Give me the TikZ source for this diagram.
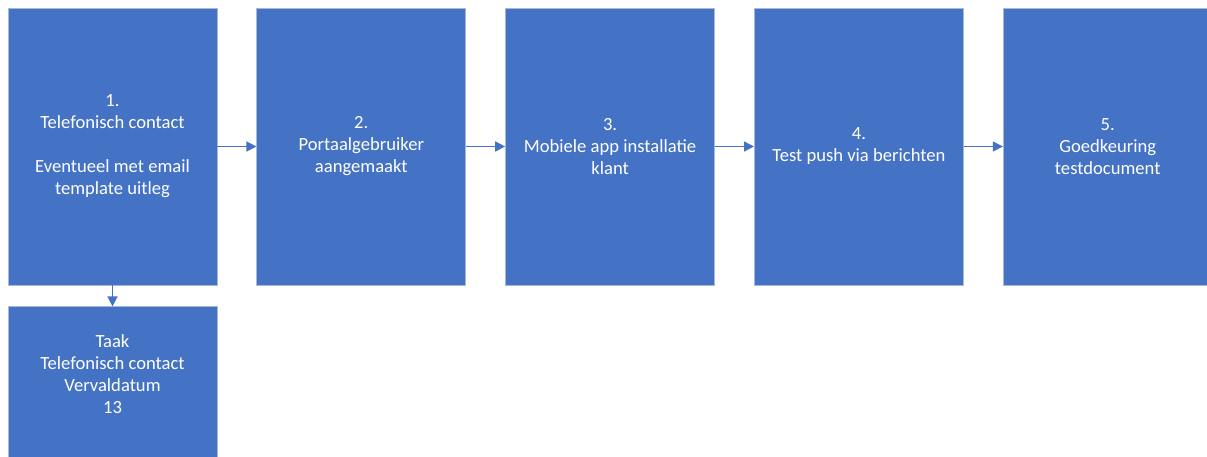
\documentclass[tikz,border=0pt]{standalone}
\usepackage{fontspec}
\setmainfont{Carlito}
\usepackage{tikz}
\usetikzlibrary{arrows.meta, positioning}
\definecolor{OBblue}{HTML}{4472C4}
\definecolor{OBedge}{HTML}{A9B8D8}
\tikzset{
  obbox/.style={
    rectangle, draw=OBedge, line width=0.8pt, fill=OBblue, text=white,
    align=center, inner sep=0pt, minimum width=209pt, minimum height=277pt,
    font=\fontsize{18.6}{22}\selectfont},
  obtxt/.style={text=white, align=center, inner sep=0pt,
    font=\fontsize{18.6}{22}\selectfont},
  obarr/.style={-{Triangle[length=10pt,width=10pt]}, line width=1.5pt, draw=OBblue},
}
\begin{document}
\begin{tikzpicture}[x=1pt, y=-1pt]
  \useasboundingbox[clip] (0,0) rectangle (1207,457);
  \fill[white] (0,0) rectangle (1207,457);
  %% Row 1: steps
  \node[obbox] (s1) at (112.5,146.5)
        {1.\\Telefonisch contact\\[22pt]Eventueel met email\\template uitleg};
  \node[obbox, right=39pt of s1] (s2) {2.\\Portaalgebruiker\\aangemaakt};
  \node[obbox, right=39pt of s2] (s3) {3.\\Mobiele app installatie\\klant};
  \node[obbox, right=39pt of s3] (s4) {4.\\Test push via berichten};
  \node[obbox, right=39pt of s4] (s5) {5.\\Goedkeuring\\testdocument};
  %% Row 2: task
  \node[obbox, anchor=north, below=21pt of s1] (taak) {};
  \node[obtxt, below=28pt of taak.north] (taaktxt)
        {Taak\\Telefonisch contact\\Vervaldatum\\13};
  %% Arrows
  \draw[obarr](s1)--(s2); \draw[obarr](s2)--(s3);
  \draw[obarr](s3)--(s4); \draw[obarr](s4)--(s5);
  \draw[obarr](s1)--(taak);
\end{tikzpicture}
\end{document}
